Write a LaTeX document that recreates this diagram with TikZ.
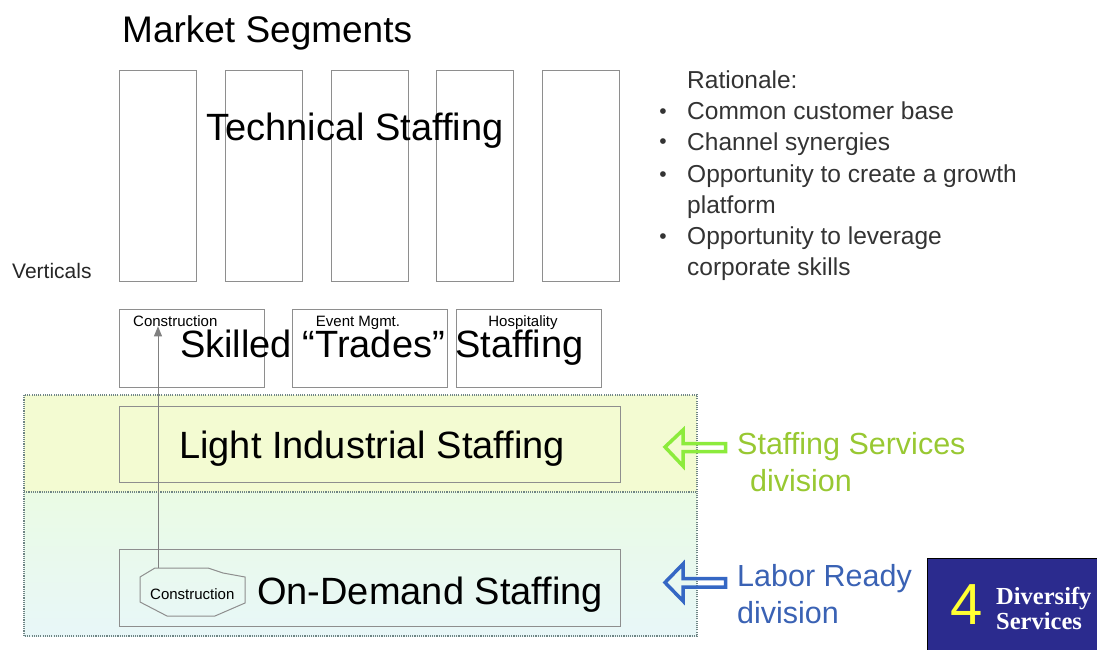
\documentclass[tikz,border=0pt]{standalone}
\usepackage{fontspec}
\setmainfont{Liberation Sans}
\newfontfamily\boxserif{Liberation Serif}
\usetikzlibrary{arrows.meta}

\definecolor{boxgray}{HTML}{8E8E8E}
\definecolor{dotgray}{HTML}{6F8585}
\definecolor{bandyellow}{HTML}{F3FBD2}
\definecolor{bandcyantop}{HTML}{EAFBE4}
\definecolor{bandcyanbot}{HTML}{E8F7F8}
\definecolor{staffgreen}{HTML}{8CEB3C}
\definecolor{stafftext}{HTML}{98C832}
\definecolor{laborblue}{HTML}{3567C4}
\definecolor{labortext}{HTML}{3A62B4}
\definecolor{navy}{HTML}{2B2B8E}
\definecolor{four}{HTML}{FFFF33}

\tikzset{
  segbox/.style={draw=boxgray, line width=1.2pt, inner sep=0pt, anchor=north west},
  big/.style={font=\fontsize{38}{44}\selectfont, anchor=base west, inner sep=0pt},
  tiny/.style={font=\fontsize{15}{18}\selectfont, inner sep=0pt},
  ratio/.style={font=\fontsize{24.5}{30}\selectfont, text=black!80, anchor=base west, inner sep=0pt},
  bullet/.style={font=\fontsize{21}{24}\selectfont, text=black!80, anchor=base, inner sep=0pt},
  band/.style={draw=dotgray, line width=1.1pt, dash pattern=on 1.1pt off 1.1pt},
  blockarrow/.style={line width=3.5pt, line join=miter},
  division/.style={font=\fontsize{30.5}{36}\selectfont, anchor=base west, inner sep=0pt},
  badge/.style={font=\boxserif\bfseries\fontsize{24.5}{30}\selectfont, text=white, anchor=base west, inner sep=0pt},
}

\begin{document}
\begin{tikzpicture}[x=1pt,y=-1pt]
\useasboundingbox (0,0) rectangle (1097,650);

% division bands
\fill[bandyellow] (24,395) rectangle (697,492);
\shade[top color=bandcyantop, bottom color=bandcyanbot] (24,492) rectangle (697,636);
\draw[band] (24,395) rectangle (697,636);
\draw[band] (24,492) -- (697,492);

% heading
\node[font=\fontsize{37}{44}\selectfont, anchor=base west, inner sep=0pt] (title) at (122,43) {Market Segments};

% vertical market segments
\foreach \i in {0,...,4}{
  \node[segbox, minimum width=77pt, minimum height=211pt] (seg\i) at ({119+105.75*\i},70) {};
}
\node[big] (tech) at (206,140) {Technical Staffing};
\node[font=\fontsize{21}{24}\selectfont, text=black!85, anchor=base west, inner sep=0pt] (vert) at (12,278) {Verticals};

% skilled trades boxes
\node[segbox, minimum width=145pt, minimum height=78pt] (trade1) at (119,309) {};
\node[segbox, minimum width=155pt, minimum height=78pt] (trade2) at (292,309) {};
\node[segbox, minimum width=145pt, minimum height=78pt] (trade3) at (456,309) {};
\node[tiny, anchor=base west] (cons1) at (133,326) {Construction};
\node[tiny, anchor=base] (event) at (358,326) {Event Mgmt.};
\node[tiny, anchor=base] (hosp) at (523,326) {Hospitality};
\node[big] (skilled) at (180,357) {Skilled “Trades” Staffing};

% light industrial and on-demand
\node[segbox, minimum width=501pt, minimum height=76pt] (light) at (119,406) {};
\node[big] (lighttext) at (179,458) {Light Industrial Staffing};
\node[segbox, minimum width=501pt, minimum height=77pt] (ondemand) at (119,549) {};
\node[big] (odtext) at (257,604) {On-Demand Staffing};

% construction octagon inside on-demand
\draw[boxgray, line width=1pt] (140,577) -- (155,568) -- (208,568) -- (223,573) -- (245,577)
  -- (245,603) -- (215,616) -- (167,616) -- (140,602) -- cycle;
\node[tiny, anchor=base west] (cons2) at (150,599) {Construction};
\coordinate (octtop) at (158,568);
\draw[boxgray!90!black, line width=1pt, -{Triangle[length=10pt, width=8pt]}]
  (octtop) -- (octtop |- cons1.south);

% rationale list
\node[ratio] (rat) at (687,89) {Rationale:};
\foreach \y/\t in {120/Common customer base, 150/Channel synergies,
                   182/Opportunity to create a growth, 244/Opportunity to leverage}{
  \node[ratio] at (687,\y) {\t};
  \node[bullet] at (663,\y-1) {•};
}
\node[ratio] (plat) at (687,213) {platform};
\node[ratio] (corp) at (687,275) {corporate skills};

% division block arrows
\draw[blockarrow, staffgreen] (665,447) -- (683,430) -- (683,443.5) -- (725.5,443.5)
  -- (725.5,451.5) -- (683,451.5) -- (683,466) -- cycle;
\draw[blockarrow, laborblue] (665,582.5) -- (683,564) -- (683,578.5) -- (725.5,578.5)
  -- (725.5,587) -- (683,587) -- (683,601) -- cycle;
\node[division, text=stafftext] (staff) at (737,454) {Staffing Services};
\node[division, text=stafftext] (staffdiv) at (750,491) {division};
\node[division, text=labortext] (labor) at (737,586) {Labor Ready};
\node[division, text=labortext] (labordiv) at (737,623) {division};

% diversify badge
\fill[navy] (927,558) rectangle (1097,650);
\draw[black, line width=1pt] (927,558) -- (927,650) (927,558) -- (1097,558);
\node[font=\fontsize{58}{60}\selectfont, text=four, anchor=base west, inner sep=0pt] (num) at (950,624) {4};
\node[badge] (div1) at (996,604) {Diversify};
\node[badge] (div2) at (996,629) {Services};
\end{tikzpicture}
\end{document}
